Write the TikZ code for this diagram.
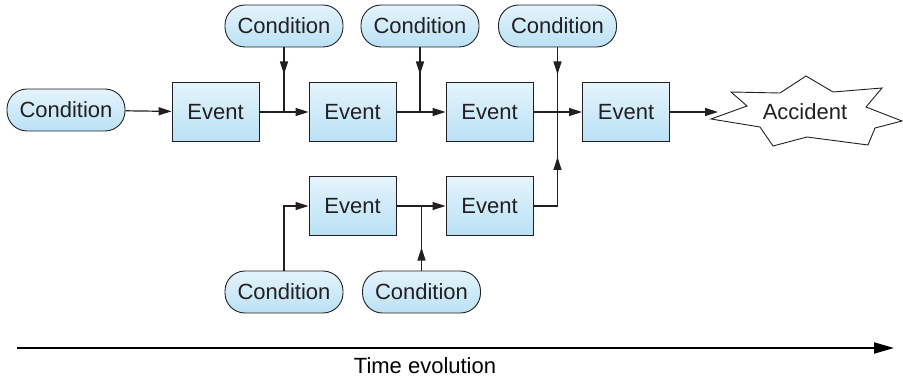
\documentclass[tikz,border=0pt]{standalone}
\usepackage{fontspec}
\setmainfont{Liberation Sans}
\usetikzlibrary{arrows.meta}
\definecolor{ink}{HTML}{231F20}
\definecolor{boxtop}{HTML}{E4F4FC}
\definecolor{boxbot}{HTML}{BAE1F5}
\begin{document}
\begin{tikzpicture}[x=1pt,y=-1pt,
  font=\fontsize{22}{26}\selectfont, text=ink,
  eventbox/.style={draw=ink, line width=0.9pt, top color=boxtop, bottom color=boxbot,
    minimum width=87pt, minimum height=59pt, inner sep=0pt},
  condbox/.style={draw=ink, line width=0.9pt, rounded corners=20pt,
    top color=boxtop, bottom color=boxbot,
    minimum width=118pt, minimum height=42pt, inner sep=0pt},
  link/.style={draw=ink, line width=1.2pt},
  tip/.style={-{Triangle[length=13pt,width=8pt]}}]
\useasboundingbox (0,0) rectangle (903,377);

% main chain of events
\node[condbox]  (c0) at (66,110)    {Condition};
\node[eventbox] (e1) at (215.5,112) {Event};
\node[eventbox] (e2) at (352.5,112) {Event};
\node[eventbox] (e3) at (489.5,112) {Event};
\node[eventbox] (e4) at (626,112)   {Event};

% conditions feeding the main chain from above
\node[condbox] (t1) at (284,26)   {Condition};
\node[condbox] (t2) at (420,26)   {Condition};
\node[condbox] (t3) at (557.5,26) {Condition};

% side branch
\node[eventbox] (e5) at (352.5,206) {Event};
\node[eventbox] (e6) at (489.5,206) {Event};
\node[condbox]  (b1) at (284,292)   {Condition};
\node[condbox]  (b2) at (421.5,292) {Condition};

% accident burst
\draw[draw=ink, line width=0.9pt, fill=white]
  (711,119) -- (747,106) -- (731,92) -- (780,93) -- (806,76) -- (833,92)
  -- (882,88) -- (866,107) -- (902,121) -- (875,128) -- (868,145)
  -- (807,137) -- (773,146) -- (760,127) -- cycle;
\node (acc) at (805,112) {Accident};
\coordinate (accin) at (718,112);

% junctions
\coordinate (j1) at (t1.south |- e1.east);
\coordinate (j2) at (t2.south |- e2.east);
\coordinate (j3) at (t3.south |- e6.east);
\coordinate (j5) at (b2.north |- e5.east);

% main connectors
\draw[link,tip] (c0) -- (e1);
\draw[link,tip] (e1) -- (e2);
\draw[link,tip] (e2) -- (e3);
\draw[link,tip] (e3) -- (e4);
\draw[link,tip] (e4) -- (accin);

% top condition inputs
\draw[link] (t1.south) -- (j1);
\draw[link,tip] (t1.south) -- ++(0,27);
\draw[link] (t2.south) -- (j2);
\draw[link,tip] (t2.south) -- ++(0,27);
\draw[link] (t3.south) -- (j3) -- (e6.east);
\draw[link,tip] (t3.south) -- ++(0,27);
\draw[link,tip] (j3) -- ++(0,-49);

% bottom branch connectors
\draw[link,tip] (b1.north) |- (e5.west);
\draw[link,tip] (e5) -- (e6);
\draw[link] (b2.north) -- (j5);
\draw[link,tip] (b2.north) -- ++(0,-23);

% time axis
\coordinate (tstart) at (17,348);
\coordinate (tend) at (894,348);
\draw[draw=black, line width=2pt, -{Triangle[length=20pt,width=11pt]}] (tstart) -- (tend);
\node[text=black, anchor=base, inner sep=0pt] (tlabel) at (425,373) {Time evolution};
\end{tikzpicture}
\end{document}
